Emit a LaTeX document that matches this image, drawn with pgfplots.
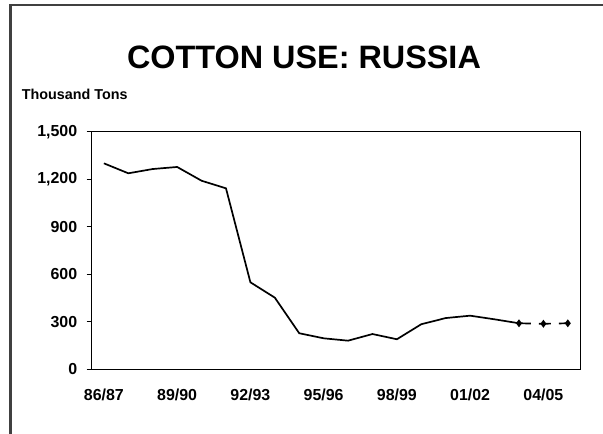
\documentclass[border=0pt]{standalone}
\usepackage{fontspec}
\setmainfont{Liberation Sans}
\usepackage{pgfplots}
\pgfplotsset{compat=1.18}
\begin{document}
\begin{tikzpicture}[x=1bp,y=1bp]
\useasboundingbox (0,0) rectangle (603,434);
\draw[black!75, line width=2.2bp] (10.5,0) -- (10.5,429.3) -- (603,429.3);
\node[font=\fontsize{32.5}{36}\selectfont\bfseries] at (304,376.5) {COTTON USE: RUSSIA};
\node[font=\fontsize{14.4}{17}\selectfont\bfseries, anchor=base west, inner sep=0] at (21.7,334) {Thousand Tons};
\begin{axis}[
  at={(91.7bp,65bp)}, anchor=south west,
  scale only axis, width=488.3bp, height=237.3bp,
  xmin=-0.5, xmax=19.5, ymin=0, ymax=1500,
  xtick={0,3,6,9,12,15,18},
  xticklabels={86/87,89/90,92/93,95/96,98/99,01/02,04/05},
  ytick={0,300,600,900,1200,1500},
  ytick pos=left, xtick pos=bottom,
  tick align=outside,
  major tick length=5bp,
  x tick style={draw=none},
  axis line style={line width=0.8bp},
  y tick style={line width=0.8bp, black},
  /pgf/number format/assume math mode=true,
  /pgf/number format/1000 sep={,},
  tick label style={font=\fontsize{16}{19}\selectfont\bfseries},
  xticklabel style={yshift=-11bp},
  yticklabel style={xshift=-6bp},
  clip=false,
]
\addplot[black, line width=1.7bp, no marks] coordinates {
(0,1300) (1,1237) (2,1264) (3,1277) (4,1190) (5,1142) (6,548) (7,451) (8,226) (9,194)
(10,179) (11,221) (12,188) (13,283) (14,322) (15,337) (16,314) (17,289)
};
\addplot[black, line width=1.7bp, dash pattern=on 12bp off 8bp, mark=diamond*, mark size=2.6bp, mark options={solid}] coordinates {
(17,289) (18,286) (19,289)
};
\end{axis}
\end{tikzpicture}
\end{document}
